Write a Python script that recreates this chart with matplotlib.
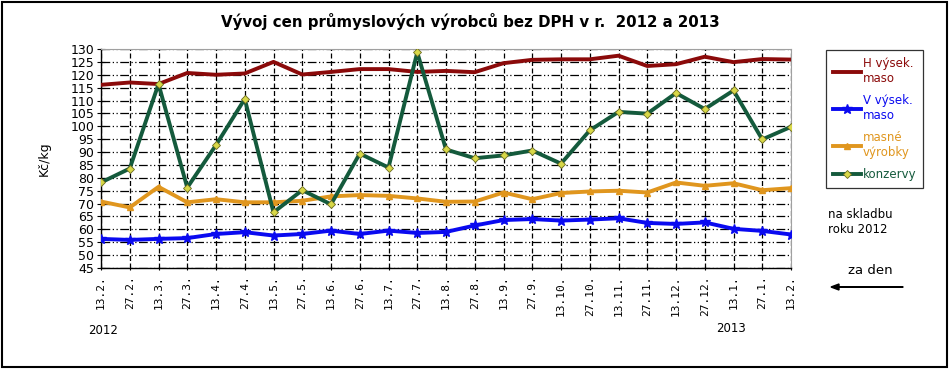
import matplotlib.pyplot as plt
import matplotlib.patches as patches
import numpy as np

# dates of the price samples (day.month.)
dates = ["13.2.", "27.2.", "13.3.", "27.3.", "13.4.", "27.4.", "13.5.", "27.5.",
         "13.6.", "27.6.", "13.7.", "27.7.", "13.8.", "27.8.", "13.9.", "27.9.",
         "13.10.", "27.10.", "13.11.", "27.11.", "13.12.", "27.12.", "13.1.", "27.1.", "13.2."]

h_maso = [116.1, 117.0, 116.4, 120.7, 120.0, 120.5, 125.0, 120.1, 121.1, 122.2, 122.2, 121.1,
          121.5, 121.0, 124.5, 125.8, 126.0, 126.0, 127.4, 123.4, 124.1, 127.0, 124.9, 126.1, 125.9]
v_maso = [56.3, 55.9, 56.3, 56.6, 58.2, 58.9, 57.6, 58.2, 59.5, 58.2, 59.5, 58.6,
          59.0, 61.5, 63.6, 64.0, 63.4, 63.8, 64.3, 62.5, 62.1, 62.7, 60.2, 59.4, 58.0]
masne = [70.8, 68.5, 76.5, 70.5, 71.7, 70.5, 70.5, 71.1, 72.8, 73.3, 73.0, 72.0,
         70.7, 70.8, 74.3, 71.7, 74.1, 74.7, 75.0, 74.3, 78.2, 76.9, 77.9, 75.2, 76.0]
konzervy = [78.2, 83.6, 116.4, 76.2, 92.7, 110.6, 66.6, 75.2, 69.7, 89.4, 84.0, 128.7,
            91.0, 87.6, 88.7, 90.6, 85.5, 98.4, 105.6, 104.9, 112.9, 106.7, 113.9, 94.9, 99.8]

c_h = "#8b0a0a"
c_v = "#0a0af0"
c_m = "#e0961e"
c_k = "#145a3c"

W, H = 951, 369
fig = plt.figure(figsize=(W / 100, H / 100), dpi=100)
ax = fig.add_axes([101 / W, 1 - 268 / H, (791 - 101) / W, (268 - 49) / H])

x = np.arange(len(dates))
ax.plot(x, h_maso, color=c_h, lw=2.8, label="H výsek.\nmaso", zorder=3)
ax.plot(x, v_maso, color=c_v, lw=2.8, marker="*", ms=7, mec=c_v, label="V výsek.\nmaso", zorder=3)
ax.plot(x, masne, color=c_m, lw=2.8, marker="^", ms=4.5, mec=c_m, label="masné\nvýrobky", zorder=3)
ax.plot(x, konzervy, color=c_k, lw=2.8, marker="D", ms=4.5, mfc="#d8d848", mec="#6b6b20",
        mew=0.6, label="konzervy", zorder=4)

ax.set_xlim(0, len(dates) - 1)
ax.set_ylim(45, 130)
ax.set_yticks(np.arange(45, 131, 5))
ax.set_xticks(x)
ax.set_xticklabels(dates, rotation=90, family="DejaVu Sans Mono", fontsize=8)
ax.tick_params(axis="y", direction="inout", length=6, labelsize=9, pad=2)
ax.tick_params(axis="x", direction="inout", length=3, pad=4)

ax.yaxis.grid(True, color="black", lw=0.9, linestyle=(0, (7, 2, 1, 2, 1, 2)))
ax.xaxis.grid(True, color="black", lw=0.9, linestyle=(0, (4, 2)))
ax.set_axisbelow(True)
for s in ["top", "right"]:
    ax.spines[s].set_color("#a0a0a0")
    ax.spines[s].set_linewidth(0.8)
for s in ["left", "bottom"]:
    ax.spines[s].set_linewidth(1.0)

ax.set_ylabel("Kč/kg", fontsize=9, labelpad=14)

fig.text(470 / W, 1 - 22 / H, "Vývoj cen průmyslových výrobců bez DPH v r.  2012 a 2013",
         ha="center", va="center", fontsize=10.8, fontweight="bold")
fig.text(88 / W, 1 - 330 / H, "2012", fontsize=8.5, va="center")
fig.text(731 / W, 1 - 329 / H, "2013", fontsize=8.5, va="center", ha="center")

leg = fig.legend(loc="upper left", bbox_to_anchor=(826 / W, 1 - 50 / H), fontsize=8.5,
                 frameon=True, fancybox=False, edgecolor="black", handlelength=2.4,
                 handletextpad=0.1, labelspacing=0.75, borderpad=0.6, borderaxespad=0)
leg.get_frame().set_linewidth(0.9)
for txt, col in zip(leg.get_texts(), [c_h, c_v, c_m, c_k]):
    txt.set_color(col)

fig.text(828 / W, 1 - 222 / H, "na skladbu\nroku 2012", fontsize=8.5, va="center",
         linespacing=1.2)
fig.text(870 / W, 1 - 270 / H, "za den", fontsize=9.5, va="center", ha="center")
fig.patches.append(patches.FancyArrow(903 / W, 1 - 287 / H, -72 / W, 0, width=0.5 / H,
                                      head_width=6 / H, head_length=8 / W, color="black",
                                      length_includes_head=True, transform=fig.transFigure))

fig.patches.append(patches.Rectangle((2 / W, 2 / H), 945 / W, 1 - 4 / H, fill=False,
                                     edgecolor="black", lw=1.5, transform=fig.transFigure))

fig.savefig("out.png", dpi=100)
